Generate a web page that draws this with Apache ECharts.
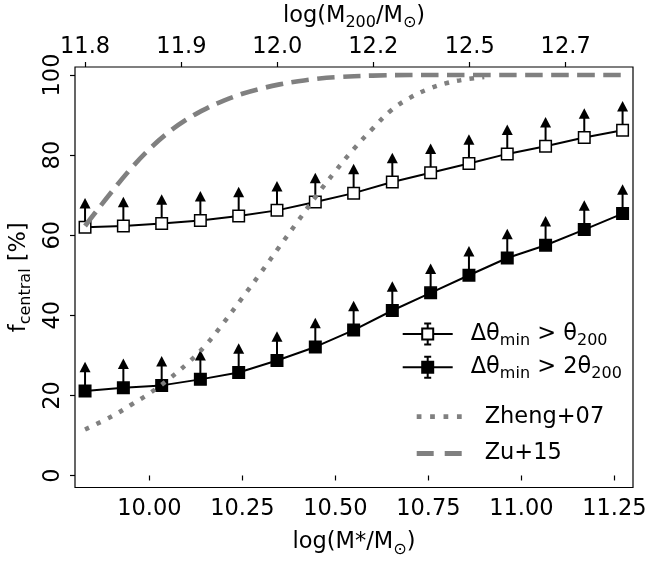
<!DOCTYPE html>
<html><head><meta charset="utf-8">
<script src="https://cdn.jsdelivr.net/npm/echarts@6/dist/echarts.min.js"></script>
<style>html,body{margin:0;padding:0;background:#fff}#c{width:649px;height:562px}</style>
</head><body><div id="c"></div>
<script>
// ---- data ----
const logMstar = [9.827, 9.930, 10.033, 10.137, 10.240, 10.343, 10.446, 10.549, 10.653, 10.756, 10.859, 10.962, 11.065, 11.169, 11.272];
const fOpen = [62.0, 62.3, 62.9, 63.7, 64.8, 66.2, 68.3, 70.5, 73.3, 75.6, 77.9, 80.3, 82.2, 84.4, 86.2];
const fFilled = [21.1, 21.9, 22.5, 24.0, 25.7, 28.7, 32.1, 36.3, 41.2, 45.6, 50.0, 54.3, 57.5, 61.4, 65.4];
const limOpen = [6, 6, 6, 6, 6, 6, 6, 6, 6, 6, 6, 6, 6, 6, 6];
const limFilled = [6, 6, 6, 6, 6, 6, 6, 6, 6, 6, 6, 6, 6, 6, 6];
const zhengX = [9.827, 9.90, 9.95, 10.00, 10.05, 10.10, 10.15, 10.20, 10.25, 10.30, 10.35, 10.40, 10.45, 10.50, 10.55, 10.60, 10.65, 10.70, 10.75, 10.80, 10.85, 10.90];
const zhengY = [11.5, 14.8, 17.6, 20.5, 23.9, 27.8, 32.4, 38.2, 44.4, 50.7, 57.2, 63.6, 70.0, 76.0, 81.6, 86.6, 91.2, 94.3, 96.5, 98.0, 98.9, 99.5];
const zuX = [9.827, 9.85, 9.90, 9.95, 10.00, 10.05, 10.10, 10.15, 10.20, 10.25, 10.30, 10.35, 10.40, 10.45, 10.50, 10.60, 10.70, 11.272];
const zuY = [62.3, 65.1, 71.0, 76.6, 81.5, 85.6, 88.9, 91.5, 93.6, 95.3, 96.6, 97.65, 98.45, 99.05, 99.45, 99.85, 100, 100];
const bottomTicks = [10.0, 10.25, 10.5, 10.75, 11.0, 11.25];
const yTicks = [0, 20, 40, 60, 80, 100];
const topTickPos = [9.827, 10.086, 10.344, 10.602, 10.861, 11.119];
const topTickLabels = ['11.8', '11.9', '12.0', '12.2', '12.5', '12.7'];
const seriesNames = ['Δθmin > θ200', 'Δθmin > 2θ200', 'Zheng+07', 'Zu+15'];
const legendLabels = ['Δθ{s|min} > θ{s|200}', 'Δθ{s|min} > 2θ{s|200}', 'Zheng+07', 'Zu+15'];

// ---- styling ----
const FONT = 'DejaVu Sans';
const FS = 22.5;
const GRAY = '#808080';
const subStyle = {fontFamily: FONT, fontSize: 16, lineHeight: 16, verticalAlign: 'bottom', color: '#000'};
const mainText = {fontFamily: FONT, fontSize: FS, lineHeight: 30, color: '#000', rich: {s: subStyle}};
const tickStyle = {length: 5, lineStyle: {color: '#000', width: 1.2}};
const labelStyle = {fontFamily: FONT, fontSize: FS, color: '#000'};

const iconErr = 'path://M0,10.5L19.5,10.5M30.5,10.5L50,10.5M25,0L25,5M25,16L25,21M21.5,0L28.5,0M21.5,21L28.5,21M19.5,5L30.5,5L30.5,16L19.5,16Z';
const iconDot = 'path://M0,0h4.5v4.5h-4.5zM12.7,0h4.5v4.5h-4.5zM25.4,0h4.5v4.5h-4.5zM38.1,0h4.5v4.5h-4.5z';
const iconDash = 'path://M0,0h17v5h-17zM28,0h17v5h-17z';

function arrowSeries(ys, errs) {
  return {
    type: 'custom', silent: true, z: 2,
    data: logMstar.map((x, i) => [x, ys[i], ys[i] + errs[i]]),
    renderItem: function (params, api) {
      const p0 = api.coord([api.value(0), api.value(1)]);
      const p1 = api.coord([api.value(0), api.value(2)]);
      const h = 10.5, w = 11;
      return {
        type: 'group', children: [
          {type: 'line', shape: {x1: p0[0], y1: p0[1], x2: p1[0], y2: p1[1]}, style: {stroke: '#000', lineWidth: 2}},
          {type: 'polygon', shape: {points: [[p1[0], p1[1] - h / 2], [p1[0] - w / 2, p1[1] + h / 2], [p1[0] + w / 2, p1[1] + h / 2]]}, style: {fill: '#000'}}
        ]
      };
    }
  };
}

const chart = echarts.init(document.getElementById('c'), null, {renderer: 'canvas'});
chart.setOption({
  animation: false,
  backgroundColor: '#fff',
  textStyle: {fontFamily: FONT},
  grid: {left: 75, right: 16, top: 67, bottom: 74.5, show: true, borderColor: '#000', borderWidth: 1.2, backgroundColor: 'transparent', containLabel: false, outerBoundsMode: 'none'},
  xAxis: [
    {
      type: 'value', position: 'bottom', min: 9.8, max: 11.3,
      axisLine: {show: false}, splitLine: {show: false},
      axisTick: Object.assign({show: true, customValues: bottomTicks}, tickStyle),
      axisLabel: Object.assign({customValues: bottomTicks, formatter: v => v.toFixed(2), margin: 10}, labelStyle),
      name: 'log(M*/M{s|⊙})', nameLocation: 'middle', nameGap: 40, nameTextStyle: mainText
    },
    {
      type: 'value', position: 'top', min: 9.8, max: 11.3,
      axisLine: {show: false}, splitLine: {show: false},
      axisTick: Object.assign({show: true, customValues: topTickPos}, tickStyle),
      axisLabel: Object.assign({customValues: topTickPos, margin: 8, formatter: function (v) {
        const i = topTickPos.findIndex(p => Math.abs(p - v) < 1e-6);
        return i >= 0 ? topTickLabels[i] : '';
      }}, labelStyle),
      name: 'log(M{s|200}/M{s|⊙})', nameLocation: 'middle', nameGap: 33, nameTextStyle: mainText
    }
  ],
  yAxis: {
    type: 'value', min: -3, max: 102,
    axisLine: {show: false}, splitLine: {show: false},
    axisTick: Object.assign({show: true, customValues: yTicks}, tickStyle),
    axisLabel: Object.assign({customValues: yTicks, rotate: 90, margin: 10}, labelStyle),
    name: 'f{s|central} [%]', nameLocation: 'middle', nameRotate: 90, nameGap: 38, nameTextStyle: mainText
  },
  legend: [
    {
      orient: 'vertical', left: 401.7, top: 319, padding: 0, itemGap: 3.3, itemWidth: 50, itemHeight: 21,
      selectedMode: false,
      data: [
        {name: seriesNames[0], icon: iconErr, itemStyle: {color: '#fff', borderColor: '#000', borderWidth: 2}},
        {name: seriesNames[1], icon: iconErr, itemStyle: {color: '#000', borderColor: '#000', borderWidth: 2}}
      ],
      formatter: n => legendLabels[seriesNames.indexOf(n)],
      textStyle: Object.assign({padding: [0, 0, 0, 13]}, mainText)
    },
    {
      orient: 'vertical', left: 416.7, top: 401.7, padding: 0, itemGap: 6.7, itemWidth: 45, itemHeight: 5,
      selectedMode: false,
      data: [
        {name: seriesNames[2], icon: iconDot, itemStyle: {color: GRAY, borderWidth: 0}},
        {name: seriesNames[3], icon: iconDash, itemStyle: {color: GRAY, borderWidth: 0}}
      ],
      formatter: n => legendLabels[seriesNames.indexOf(n)],
      textStyle: Object.assign({padding: [0, 0, 0, 18]}, mainText)
    }
  ],
  series: [
    arrowSeries(fOpen, limOpen),
    arrowSeries(fFilled, limFilled),
    {
      name: seriesNames[0], type: 'line', z: 3,
      data: logMstar.map((x, i) => [x, fOpen[i]]),
      symbol: 'rect', symbolSize: 11.5,
      lineStyle: {color: '#000', width: 2},
      itemStyle: {color: '#fff', borderColor: '#000', borderWidth: 1.5}
    },
    {
      name: seriesNames[1], type: 'line', z: 3,
      data: logMstar.map((x, i) => [x, fFilled[i]]),
      symbol: 'rect', symbolSize: 11.5,
      lineStyle: {color: '#000', width: 2},
      itemStyle: {color: '#000', borderColor: '#000', borderWidth: 1.5}
    },
    {
      name: seriesNames[2], type: 'line', z: 4, symbol: 'none', smooth: 0.4,
      data: zhengX.map((x, i) => [x, zhengY[i]]),
      lineStyle: {color: GRAY, width: 4.5, type: [4.5, 8.2], cap: 'butt'},
      itemStyle: {color: GRAY}
    },
    {
      name: seriesNames[3], type: 'line', z: 4, symbol: 'none', smooth: 0.4,
      data: zuX.map((x, i) => [x, zuY[i]]),
      lineStyle: {color: GRAY, width: 4.7, type: [17.5, 8.5], cap: 'butt'},
      itemStyle: {color: GRAY}
    }
  ]
});
</script></body></html>
